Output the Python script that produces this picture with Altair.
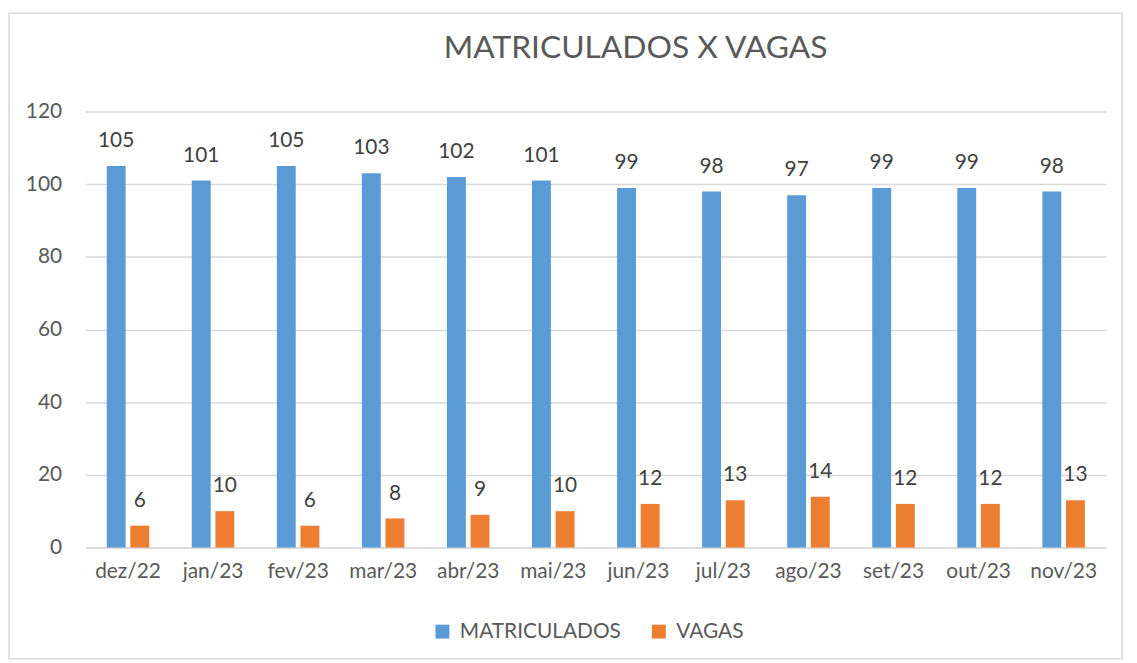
import altair as alt
import pandas as pd

months = ["dez/22", "jan/23", "fev/23", "mar/23", "abr/23", "mai/23",
          "jun/23", "jul/23", "ago/23", "set/23", "out/23", "nov/23"]
matriculados = [105, 101, 105, 103, 102, 101, 99, 98, 97, 99, 99, 98]
vagas = [6, 10, 6, 8, 9, 10, 12, 13, 14, 12, 12, 13]
series = ["MATRICULADOS", "VAGAS"]
colors = ["#5B9BD5", "#ED7D31"]

rows = []
for m, a, b in zip(months, matriculados, vagas):
    rows.append({"mes": m, "serie": series[0], "valor": a})
    rows.append({"mes": m, "serie": series[1], "valor": b})
df = pd.DataFrame(rows)

FONT = "Lato"
W, H = 1028, 439

x = alt.X("mes:N", sort=months, title=None,
          scale=alt.Scale(paddingInner=0.5, paddingOuter=0.25),
          axis=alt.Axis(labelAngle=0, ticks=False, domainColor="#D9D9D9",
                        domainWidth=1.5, labelFontSize=21, labelColor="#595959",
                        labelFont=FONT, labelPadding=13))
xo = alt.XOffset("serie:N", sort=series,
                 scale=alt.Scale(paddingInner=0.2, paddingOuter=0))
y = alt.Y("valor:Q", title=None,
          scale=alt.Scale(domain=[0, 120], nice=False),
          axis=alt.Axis(values=[0, 20, 40, 60, 80, 100, 120], domain=False, ticks=False,
                        gridColor="#D9D9D9", gridWidth=1.5, labelFontSize=21,
                        labelColor="#595959", labelFont=FONT, labelPadding=24))
color = alt.Color("serie:N", sort=series,
                  scale=alt.Scale(domain=series, range=colors),
                  legend=alt.Legend(title=None, orient="none", direction="horizontal",
                                    legendX=349, legendY=513, symbolType="square",
                                    symbolSize=196, symbolStrokeWidth=0,
                                    labelFontSize=21, labelFont=FONT, labelLimit=400,
                                    labelColor="#595959", labelOffset=7,
                                    columnPadding=27))

base = alt.Chart(df)
bars = base.mark_bar().encode(x=x, xOffset=xo, y=y, color=color)
labels = base.mark_text(baseline="bottom", dy=-15, fontSize=21, font=FONT,
                        color="#404040").encode(x=x, xOffset=xo, y=y, text="valor:Q")

border = alt.Chart(alt.Data(values=[{}])).mark_rect(
    filled=False, stroke="#D9D9D9", strokeWidth=1.5
).encode(x=alt.value(-77), x2=alt.value(1044), y=alt.value(-99), y2=alt.value(551))

chart = alt.layer(border, bars, labels).properties(
    width=W, height=H,
    title=alt.TitleParams("MATRICULADOS X VAGAS", fontSize=32, font=FONT,
                          fontWeight="normal", color="#595959", anchor="middle",
                          dx=40, offset=-53),
    autosize=alt.AutoSizeParams(type="none"),
    padding={"left": 78, "top": 102, "right": 23, "bottom": 114},
).configure_view(stroke=None)

chart.save("out.html", embed_options={"renderer": "svg", "actions": False})
